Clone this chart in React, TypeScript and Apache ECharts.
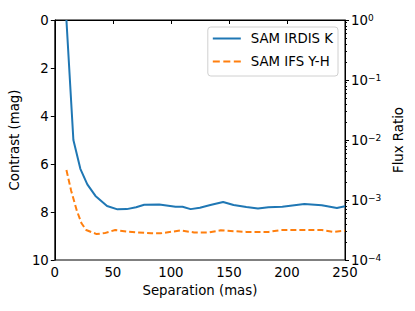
import React, { useEffect, useRef } from "react";
import * as echarts from "echarts";

const irdisSep = [10, 16, 22, 28, 35, 45, 54, 62, 70, 77, 90, 104, 110, 117, 125, 134, 145, 154, 165, 175, 184, 196, 215, 230, 243, 250];
const irdisMag = [0, 5.0, 6.2, 6.85, 7.33, 7.75, 7.89, 7.88, 7.8, 7.7, 7.69, 7.78, 7.78, 7.88, 7.82, 7.71, 7.58, 7.71, 7.79, 7.85, 7.8, 7.78, 7.67, 7.72, 7.83, 7.76];
const ifsSep = [10, 14, 19, 23, 27, 36, 43, 52, 63, 83, 91, 108, 120, 133, 143, 154, 165, 184, 196, 230, 240, 250];
const ifsMag = [6.25, 7.1, 7.95, 8.47, 8.75, 8.92, 8.88, 8.75, 8.82, 8.89, 8.89, 8.77, 8.85, 8.85, 8.76, 8.8, 8.83, 8.83, 8.75, 8.75, 8.83, 8.78];
const seriesNames = ["SAM IRDIS K", "SAM IFS Y-H"];
const xTicks = [0, 50, 100, 150, 200, 250];
const leftTicks = [0, 2, 4, 6, 8, 10];
const supMap: Record<string, string> = { "-4": "−4", "-3": "−3", "-2": "−2", "-1": "−1", "0": "0" };

const FONT = "DejaVu Sans";
const FS = 13.3;

export default function App() {
  const ref = useRef<HTMLDivElement>(null);
  useEffect(() => {
    if (!ref.current) return;
    const chart = echarts.init(ref.current, undefined, { renderer: "svg" });
    chart.setOption({
      animation: false,
      textStyle: { fontFamily: FONT, color: "#000" },
      grid: { left: 54, right: 70, top: 20, bottom: 51, show: true, borderColor: "#000", borderWidth: 1, backgroundColor: "transparent" },
      legend: {
        right: 77,
        top: 27,
        orient: "vertical",
        itemWidth: 28,
        itemHeight: 2,
        itemGap: 10,
        padding: [5, 5, 8, 5],
        borderColor: "#d0d0d0",
        borderWidth: 1,
        borderRadius: 3,
        backgroundColor: "rgba(255,255,255,0.8)",
        textStyle: { fontFamily: FONT, fontSize: FS, color: "#000", padding: [0, 0, 0, 5] },
        data: [
          { name: seriesNames[0], icon: "rect" },
          { name: seriesNames[1], icon: "path://M0,0h7v2H0z M10.5,0h7v2h-7z M21,0h7v2h-7z" },
        ],
      },
      xAxis: {
        type: "value",
        min: xTicks[0],
        max: xTicks[xTicks.length - 1],
        interval: 50,
        name: "Separation (mas)",
        nameLocation: "middle",
        nameGap: 21,
        nameTextStyle: { fontFamily: FONT, fontSize: FS, color: "#000" },
        axisLine: { lineStyle: { color: "#000", width: 1 } },
        axisTick: { length: 4, lineStyle: { color: "#000" } },
        axisLabel: { fontFamily: FONT, fontSize: FS, color: "#000", margin: 6 },
        splitLine: { show: false },
      },
      yAxis: [
        {
          type: "value",
          inverse: true,
          min: leftTicks[0],
          max: leftTicks[leftTicks.length - 1],
          interval: 2,
          position: "left",
          name: "Contrast (mag)",
          nameLocation: "middle",
          nameRotate: 90,
          nameGap: 27,
          nameTextStyle: { fontFamily: FONT, fontSize: FS, color: "#000" },
          axisLine: { show: true, lineStyle: { color: "#000", width: 1 } },
          axisTick: { show: true, length: 4, lineStyle: { color: "#000" } },
          axisLabel: { fontFamily: FONT, fontSize: FS, color: "#000", margin: 6 },
          splitLine: { show: false },
        },
        {
          type: "log",
          logBase: 10,
          min: 1e-4,
          max: 1,
          position: "right",
          name: "Flux Ratio",
          nameLocation: "middle",
          nameRotate: 90,
          nameGap: 40,
          nameTextStyle: { fontFamily: FONT, fontSize: FS, color: "#000" },
          axisLine: { show: true, lineStyle: { color: "#000", width: 1 } },
          axisTick: { show: true, length: 4, lineStyle: { color: "#000" } },
          minorTick: { show: true, splitNumber: 9, length: 2, lineStyle: { color: "#000" } },
          axisLabel: {
            margin: 6,
            formatter: (v: number) => {
              const e = String(Math.round(Math.log10(v)));
              return `{b|10}{s|${supMap[e] ?? e}}`;
            },
            rich: {
              b: { fontFamily: FONT, fontSize: FS, color: "#000", lineHeight: 13, verticalAlign: "bottom" },
              s: { fontFamily: FONT, fontSize: 9, color: "#000", lineHeight: 9, verticalAlign: "top", padding: [0, 0, 6, 0] },
            },
          },
          splitLine: { show: false },
          minorSplitLine: { show: false },
        },
      ],
      series: [
        {
          name: seriesNames[0],
          type: "line",
          yAxisIndex: 0,
          symbol: "none",
          data: irdisSep.map((s, i) => [s, irdisMag[i]]),
          lineStyle: { color: "#1f77b4", width: 2 },
          itemStyle: { color: "#1f77b4" },
          clip: true,
        },
        {
          name: seriesNames[1],
          type: "line",
          yAxisIndex: 0,
          symbol: "none",
          data: ifsSep.map((s, i) => [s, ifsMag[i]]),
          lineStyle: { color: "#ff7f0e", width: 2, type: [6, 3] },
          itemStyle: { color: "#ff7f0e" },
          clip: true,
        },
      ],
    });
    return () => chart.dispose();
  }, []);
  return <div ref={ref} style={{ width: 415, height: 311, position: "absolute", left: 0, top: 0 }} />;
}
